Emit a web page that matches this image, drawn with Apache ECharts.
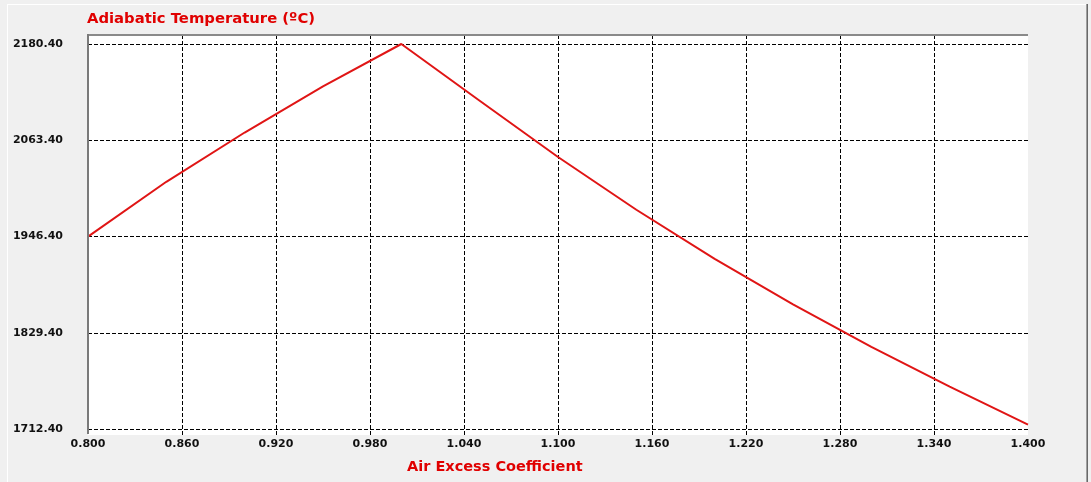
<!DOCTYPE html>
<html>
<head>
<meta charset="utf-8">
<script src="https://cdn.jsdelivr.net/npm/echarts@6/dist/echarts.min.js"></script>
<style>
html,body{margin:0;padding:0;background:#f0f0f0;}
#c{width:1091px;height:482px;}
</style>
</head>
<body>
<div id="c"></div>
<script>
const chartTitle = 'Adiabatic Temperature (ºC)';
const xAxisTitle = 'Air Excess Coefficient';
const airExcess = [0.80, 0.85, 0.90, 0.95, 1.00, 1.05, 1.10, 1.15, 1.20, 1.25, 1.30, 1.35, 1.40];
const adiabaticTemp = [1946.3, 2012.9, 2072.8, 2128.8, 2180.4, 2111.4, 2043.0, 1978.9, 1919.3, 1864.0, 1812.3, 1763.9, 1717.6];
const xTicks = [0.800, 0.860, 0.920, 0.980, 1.040, 1.100, 1.160, 1.220, 1.280, 1.340, 1.400];
const yTicks = [1712.40, 1829.40, 1946.40, 2063.40, 2180.40];

const FONT = 'DejaVu Sans';
const innerXTicks = xTicks.slice(1, -1);
const chart = echarts.init(document.getElementById('c'), null, {renderer: 'canvas'});
const gridL = 88, gridR = 1028, gridT = 44, gridB = 429;
const dashed = {color: '#000', width: 1, type: [4, 2]};
const xBase = {
  type: 'value',
  min: xTicks[0], max: xTicks[xTicks.length - 1],
  interval: xTicks[1] - xTicks[0],
  axisLine: {show: false}
};

chart.setOption({
  backgroundColor: '#f0f0f0',
  animation: false,
  grid: [
    {left: gridL, right: 1091 - gridR, top: gridT, bottom: 482 - gridB, containLabel: false},
    {left: gridL, right: 1091 - gridR, top: 35, bottom: 482 - 435, containLabel: false}
  ],
  xAxis: [Object.assign({}, xBase, {
    gridIndex: 0,
    position: 'bottom',
    axisTick: {show: false},
    axisLabel: {
      show: true, margin: 10, color: '#111',
      fontFamily: FONT, fontWeight: 'bold', fontSize: 11,
      customValues: xTicks,
      formatter: v => v.toFixed(3)
    },
    splitLine: {show: false}
  }), Object.assign({}, xBase, {
    gridIndex: 1,
    position: 'bottom',
    axisTick: {show: false, customValues: innerXTicks},
    axisLabel: {show: false},
    splitLine: {show: true, lineStyle: dashed, showMinLine: true, showMaxLine: true}
  })],
  yAxis: [{
    gridIndex: 0,
    type: 'value',
    min: yTicks[0], max: yTicks[yTicks.length - 1],
    interval: yTicks[1] - yTicks[0],
    axisLine: {show: false},
    axisTick: {show: false},
    axisLabel: {
      show: true, margin: 25, color: '#111',
      fontFamily: FONT, fontWeight: 'bold', fontSize: 11,
      customValues: yTicks,
      formatter: v => v.toFixed(2)
    },
    splitLine: {show: true, lineStyle: dashed}
  }, {
    gridIndex: 1,
    type: 'value',
    min: 0, max: 1,
    show: false
  }],
  graphic: [
    {type: 'rect', z: -10, silent: true, shape: {x: 88, y: 35, width: 940, height: 400}, style: {fill: '#ffffff'}},
    {type: 'line', z: 100, silent: true, shape: {x1: 88, y1: 35, x2: 1028, y2: 35}, style: {stroke: '#8a8a8a', lineWidth: 2}},
    {type: 'line', z: 100, silent: true, shape: {x1: 88, y1: 34, x2: 88, y2: 434}, style: {stroke: '#7a7a7a', lineWidth: 2}},
    {type: 'line', z: 100, silent: true, shape: {x1: 7, y1: 4.5, x2: 1087, y2: 4.5}, style: {stroke: '#ffffff', lineWidth: 1}},
    {type: 'line', z: 100, silent: true, shape: {x1: 7.5, y1: 4, x2: 7.5, y2: 482}, style: {stroke: '#ffffff', lineWidth: 1}},
    {type: 'line', z: 100, silent: true, shape: {x1: 1086.5, y1: 4, x2: 1086.5, y2: 482}, style: {stroke: '#a0a0a0', lineWidth: 1}},
    {type: 'line', z: 100, silent: true, shape: {x1: 1087.5, y1: 4, x2: 1087.5, y2: 482}, style: {stroke: '#696969', lineWidth: 1}},
    {type: 'text', z: 100, silent: true, x: 87, y: 19, style: {text: chartTitle, fill: '#e00000', font: 'bold 14.8px "DejaVu Sans"', verticalAlign: 'middle', align: 'left'}},
    {type: 'text', z: 100, silent: true, x: 407, y: 467, style: {text: xAxisTitle, fill: '#e00000', font: 'bold 14.5px "DejaVu Sans"', verticalAlign: 'middle', align: 'left'}}
  ],
  series: [{
    type: 'line',
    xAxisIndex: 0,
    yAxisIndex: 0,
    data: airExcess.map((x, i) => [x, adiabaticTemp[i]]),
    showSymbol: false,
    clip: false,
    lineStyle: {color: '#e01515', width: 2},
    z: 5
  }]
});
</script>
</body>
</html>
